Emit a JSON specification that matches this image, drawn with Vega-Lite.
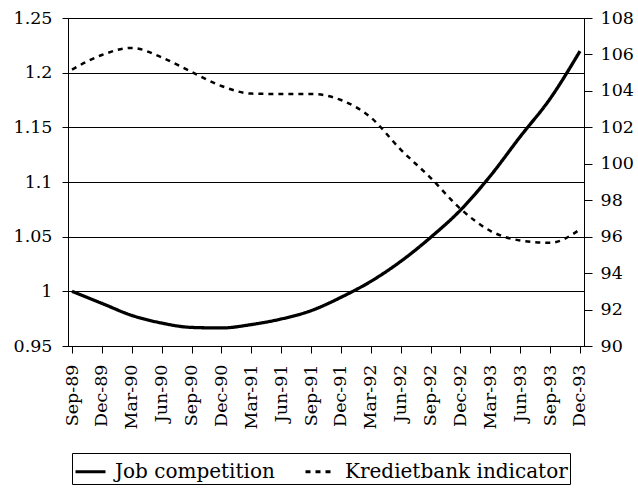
{
  "$schema": "https://vega.github.io/schema/vega-lite/v6.json",
  "width": 516,
  "height": 328,
  "autosize": {"type": "none"},
  "padding": {"left": 68, "top": 18, "right": 54, "bottom": 142},
  "background": "white",
  "config": {
    "font": "DejaVu Serif",
    "view": {"stroke": "black", "strokeWidth": 1},
    "axis": {
      "labelFont": "DejaVu Serif",
      "labelFontSize": 17.5,
      "labelColor": "black",
      "domainColor": "black",
      "tickColor": "black",
      "title": null
    },
    "legend": {
      "labelFont": "DejaVu Serif",
      "labelFontSize": 20,
      "labelColor": "black",
      "labelLimit": 0,
      "title": null,
      "strokeColor": "black",
      "padding": 2,
      "symbolType": "stroke",
      "symbolSize": 900,
      "symbolStrokeWidth": 3,
      "symbolStrokeColor": "black",
      "labelOffset": 8,
      "columnPadding": 24
    }
  },
  "data": {
    "values": [
      {"date": "Sep-89", "series": "Job competition", "value": 1.0},
      {"date": "Dec-89", "series": "Job competition", "value": 0.989},
      {"date": "Mar-90", "series": "Job competition", "value": 0.978},
      {"date": "Jun-90", "series": "Job competition", "value": 0.971},
      {"date": "Sep-90", "series": "Job competition", "value": 0.967},
      {"date": "Dec-90", "series": "Job competition", "value": 0.9665},
      {"date": "Mar-91", "series": "Job competition", "value": 0.9696},
      {"date": "Jun-91", "series": "Job competition", "value": 0.9747},
      {"date": "Sep-91", "series": "Job competition", "value": 0.9823},
      {"date": "Dec-91", "series": "Job competition", "value": 0.9945},
      {"date": "Mar-92", "series": "Job competition", "value": 1.0091},
      {"date": "Jun-92", "series": "Job competition", "value": 1.0274},
      {"date": "Sep-92", "series": "Job competition", "value": 1.0493},
      {"date": "Dec-92", "series": "Job competition", "value": 1.0743},
      {"date": "Mar-93", "series": "Job competition", "value": 1.1056},
      {"date": "Jun-93", "series": "Job competition", "value": 1.1415},
      {"date": "Sep-93", "series": "Job competition", "value": 1.1762},
      {"date": "Dec-93", "series": "Job competition", "value": 1.2197},
      {"date": "Sep-89", "series": "Kredietbank indicator", "value": 105.17},
      {"date": "Dec-89", "series": "Kredietbank indicator", "value": 105.97},
      {"date": "Mar-90", "series": "Kredietbank indicator", "value": 106.36},
      {"date": "Jun-90", "series": "Kredietbank indicator", "value": 105.84},
      {"date": "Sep-90", "series": "Kredietbank indicator", "value": 105.04},
      {"date": "Dec-90", "series": "Kredietbank indicator", "value": 104.27},
      {"date": "Mar-91", "series": "Kredietbank indicator", "value": 103.85},
      {"date": "Jun-91", "series": "Kredietbank indicator", "value": 103.83},
      {"date": "Sep-91", "series": "Kredietbank indicator", "value": 103.83},
      {"date": "Dec-91", "series": "Kredietbank indicator", "value": 103.5},
      {"date": "Mar-92", "series": "Kredietbank indicator", "value": 102.54},
      {"date": "Jun-92", "series": "Kredietbank indicator", "value": 100.78},
      {"date": "Sep-92", "series": "Kredietbank indicator", "value": 99.23},
      {"date": "Dec-92", "series": "Kredietbank indicator", "value": 97.53},
      {"date": "Mar-93", "series": "Kredietbank indicator", "value": 96.32},
      {"date": "Jun-93", "series": "Kredietbank indicator", "value": 95.79},
      {"date": "Sep-93", "series": "Kredietbank indicator", "value": 95.66},
      {"date": "Dec-93", "series": "Kredietbank indicator", "value": 96.4}
    ]
  },
  "encoding": {
    "x": {
      "field": "date",
      "type": "ordinal",
      "sort": null,
      "scale": {"type": "point", "padding": 0.134},
      "axis": {"labelAngle": -90, "tickSize": 7, "labelPadding": 11, "grid": false}
    },
    "strokeDash": {
      "field": "series",
      "type": "nominal",
      "scale": {
        "domain": ["Job competition", "Kredietbank indicator"],
        "range": [[1, 0], [5, 5]]
      },
      "legend": {"orient": "none", "direction": "horizontal", "legendX": 4, "legendY": 435}
    }
  },
  "layer": [
    {
      "transform": [{"filter": "datum.series === 'Job competition'"}],
      "mark": {"type": "line", "color": "black", "strokeWidth": 3.3, "interpolate": "monotone"},
      "encoding": {
        "y": {
          "field": "value",
          "type": "quantitative",
          "scale": {"domain": [0.95, 1.25], "nice": false, "zero": false},
          "axis": {
            "values": [0.95, 1.0, 1.05, 1.1, 1.15, 1.2, 1.25],
            "format": "~g",
            "grid": true,
            "gridColor": "black",
            "gridOpacity": 1,
            "tickSize": 6,
            "labelPadding": 10
          }
        }
      }
    },
    {
      "transform": [{"filter": "datum.series === 'Kredietbank indicator'"}],
      "mark": {"type": "line", "color": "black", "strokeWidth": 2.5, "interpolate": "monotone"},
      "encoding": {
        "y": {
          "field": "value",
          "type": "quantitative",
          "scale": {"domain": [90, 108], "nice": false, "zero": false},
          "axis": {
            "orient": "right",
            "values": [90, 92, 94, 96, 98, 100, 102, 104, 106, 108],
            "grid": false,
            "tickSize": 8,
            "labelPadding": 8
          }
        }
      }
    }
  ],
  "resolve": {"scale": {"y": "independent"}}
}
